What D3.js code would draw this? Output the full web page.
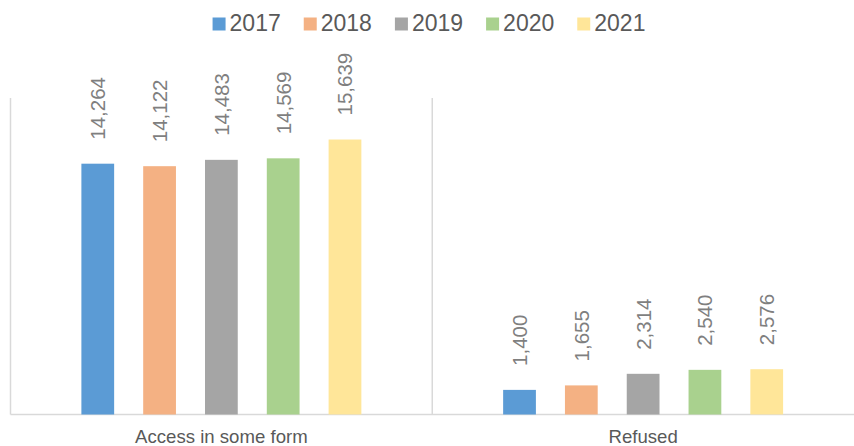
<!DOCTYPE html>
<html>
<head>
<meta charset="utf-8">
<script src="https://cdn.jsdelivr.net/npm/d3@7"></script>
<style>
  html, body { margin: 0; padding: 0; background: #fff; }
  svg { display: block; }
</style>
</head>
<body>
<svg id="chart" width="854" height="446"></svg>
<script>
// Categories, series and their values
const categories = ["Access in some form", "Refused"];
const years = ["2017", "2018", "2019", "2020", "2021"];
const colors = ["#5b9bd5", "#f4b183", "#a5a5a5", "#a9d18e", "#ffe699"];
const values2017 = [14264, 1400];
const values2018 = [14122, 1655];
const values2019 = [14483, 2314];
const values2020 = [14569, 2540];
const values2021 = [15639, 2576];
const seriesValues = [values2017, values2018, values2019, values2020, values2021];

const svg = d3.select("#chart");
const W = 854, H = 446;
const plot = { left: 10.5, right: 854, top: 98, bottom: 414.5 };
const font = "'Liberation Sans', Arial, sans-serif";

const x0 = d3.scaleBand().domain(categories).range([plot.left, plot.right]).padding(0);
const x1 = d3.scaleBand().domain(years).range([0, x0.bandwidth()])
  .paddingInner(0.47).paddingOuter(1.147);
const y = d3.scaleLinear().domain([0, 18000]).range([plot.bottom, plot.top]);

// Category separators
const seps = categories.map(c => x0(c));
svg.append("g").selectAll("line").data(seps).join("line")
  .attr("x1", d => d).attr("x2", d => d)
  .attr("y1", plot.top).attr("y2", plot.bottom)
  .attr("stroke", "#d9d9d9").attr("stroke-width", 1.5);

// Baseline
svg.append("line")
  .attr("x1", plot.left).attr("x2", plot.right)
  .attr("y1", plot.bottom).attr("y2", plot.bottom)
  .attr("stroke", "#d9d9d9").attr("stroke-width", 1.5);

// Bars and rotated value labels
const rows = [];
categories.forEach((c, ci) => {
  years.forEach((yr, si) => {
    rows.push({ cat: c, year: yr, value: seriesValues[si][ci], color: colors[si] });
  });
});

const fmt = d3.format(",");

svg.append("g").selectAll("rect").data(rows).join("rect")
  .attr("x", d => x0(d.cat) + x1(d.year))
  .attr("y", d => y(d.value))
  .attr("width", x1.bandwidth())
  .attr("height", d => plot.bottom - y(d.value))
  .attr("fill", d => d.color);

svg.append("g").selectAll("text").data(rows).join("text")
  .attr("transform", d => {
    const cx = x0(d.cat) + x1(d.year) + x1.bandwidth() / 2;
    const cy = y(d.value) - 24;
    return `translate(${cx},${cy}) rotate(-90)`;
  })
  .attr("dy", "0.36em")
  .attr("text-anchor", "start")
  .attr("font-family", font)
  .attr("font-size", 20.5)
  .attr("fill", "#7f7f7f")
  .text(d => fmt(d.value));

// Category labels
svg.append("g").selectAll("text").data(categories).join("text")
  .attr("x", d => x0(d) + x0.bandwidth() / 2)
  .attr("y", 443)
  .attr("text-anchor", "middle")
  .attr("font-family", font)
  .attr("font-size", 18.6)
  .attr("fill", "#595959")
  .text(d => d);

// Legend
const legend = svg.append("g");
const sq = 13, gapSq = 4, gapItem = 23, legFont = 23;
const items = legend.selectAll("g").data(years).join("g");
items.append("rect")
  .attr("width", sq).attr("height", sq)
  .attr("y", 17.5)
  .attr("fill", (d, i) => colors[i]);
items.append("text")
  .attr("x", sq + gapSq)
  .attr("y", 30.7)
  .attr("font-family", font)
  .attr("font-size", legFont)
  .attr("fill", "#595959")
  .text(d => d);
let cursor = 0;
const widths = [];
items.each(function () {
  widths.push(this.getBBox().width);
});
items.attr("transform", (d, i) => {
  const tx = cursor;
  cursor += widths[i] + gapItem;
  return `translate(${tx},0)`;
});
const total = cursor - gapItem;
legend.attr("transform", `translate(${(W - total) / 2 + 2},0)`);
</script>
</body>
</html>
